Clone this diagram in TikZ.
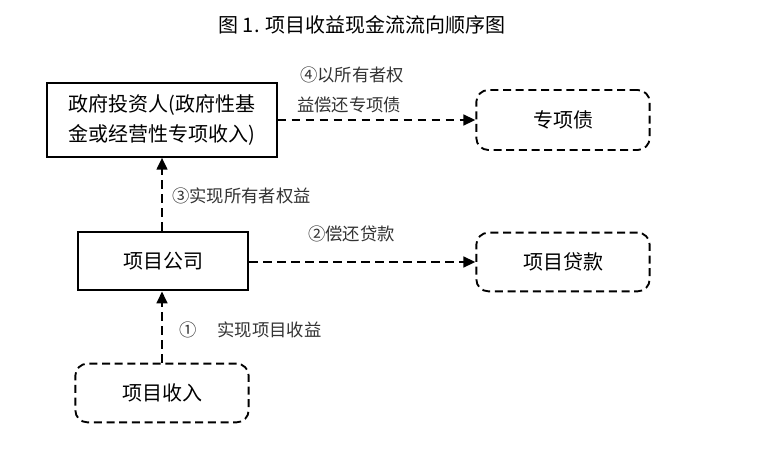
\documentclass[tikz,border=0pt]{standalone}
\usepackage{fontspec}
\setmainfont{Noto Sans CJK SC}
\usetikzlibrary{arrows.meta, positioning}
\tikzset{
  % box styles
  solidbox/.style={rectangle, draw=black, line width=1.6pt, minimum width=#1, text centered, font=\fontsize{15}{22}\selectfont, fill=white},
  solidbox/.default={128pt},
  dashbox/.style={rectangle, rounded corners=9pt, draw=black, line width=1.4pt, dash pattern=on 6pt off 3.5pt, minimum width=130pt, minimum height=45pt, text centered, font=\fontsize{15}{18}\selectfont},
  flow/.style={-{Triangle[length=9pt, width=8pt]}, line width=1.9pt, dash pattern=on 6.5pt off 4pt},
  note/.style={font=\fontsize{13}{22}\selectfont, text=black!80, inner sep=0pt},
}
\begin{document}
\begin{tikzpicture}[x=0.75pt, y=-0.75pt]
    \useasboundingbox (0,0) rectangle (779,461);

    % Title
    \node[font=\fontsize{15}{16}\selectfont] (title) at (362,25) {图 1. 项目收益现金流流向顺序图};

    % Boxes
    \node[solidbox=172pt, minimum height=55pt, align=center] (gov) at (162,120) {政府投资人(政府性基\\金或经营性专项收入)};
    \node[dashbox] (bond) at (563,120) {专项债};
    \node[solidbox, minimum height=44pt] (company) at (163,261) {项目公司};
    \node[dashbox, minimum height=44pt] (loan) at (563,262) {项目贷款};
    \node[dashbox, minimum height=44pt] (income) at (162,393) {项目收入};

    % Arrows
    \draw[flow] (gov.east |- bond) -- (bond.west);
    \draw[flow] (company.east |- loan) -- (loan.west);
    \draw[flow] (company.north -| income) -- (gov.south -| income);
    \draw[flow] (income.north) -- (income.north |- company.south);

    % Labels
    \node[note, anchor=west, align=left] (n4) at (297,90) {\,④以所有者权\\益偿还专项债};
    \node[note, anchor=west] (n3) at (172,196) {③实现所有者权益};
    \node[note, anchor=west] (n2) at (308,234) {②偿还贷款};
    \node[note, anchor=west] (n1) at (179,330) {①\hspace{1.2em}实现项目收益};
  \end{tikzpicture}
\end{document}
